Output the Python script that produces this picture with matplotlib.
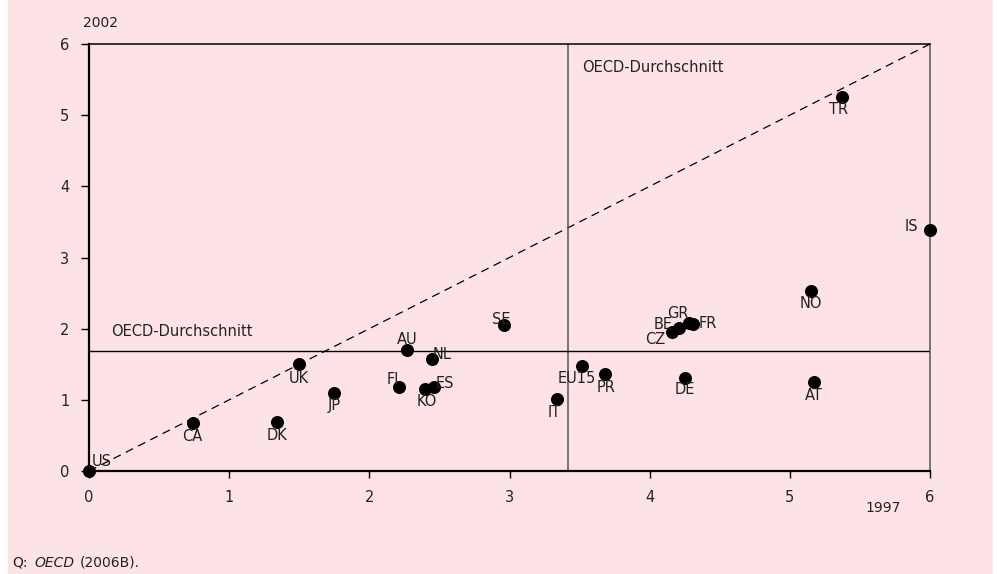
import matplotlib.pyplot as plt
from matplotlib.patches import Rectangle

# ====== DATA ====== #
countries = ['US', 'CA', 'DK', 'UK', 'JP', 'AU', 'NL', 'FI', 'KO', 'ES', 'SE', 'IT',
             'EU15', 'PR', 'BE', 'CZ', 'GR', 'FR', 'DE', 'AT', 'NO', 'IS', 'TR']
x_1997 = [0.00, 0.74, 1.34, 1.50, 1.75, 2.27, 2.45, 2.21, 2.40, 2.46, 2.96, 3.34,
          3.52, 3.68, 4.21, 4.16, 4.28, 4.31, 4.25, 5.17, 5.15, 6.00, 5.37]
y_2002 = [0.00, 0.68, 0.69, 1.50, 1.09, 1.70, 1.57, 1.18, 1.15, 1.18, 2.05, 1.01,
          1.48, 1.37, 2.01, 1.96, 2.08, 2.07, 1.31, 1.25, 2.53, 3.38, 5.25]
oecd_avg_1997 = 3.42
oecd_avg_2002 = 1.68

# label placement: offset in pixels and horizontal alignment
label_pos = {
    'US': (3, 9, 'left'), 'CA': (0, -14, 'center'), 'DK': (0, -14, 'center'),
    'UK': (0, -14, 'center'), 'JP': (0, -12, 'center'), 'AU': (0, 11, 'center'),
    'NL': (0, 5, 'left'), 'FI': (-6, 8, 'center'), 'KO': (1, -12, 'center'),
    'ES': (2, 4, 'left'), 'SE': (-3, 6, 'center'), 'IT': (-3, -13, 'center'),
    'EU15': (-6, -13, 'center'), 'PR': (1, -14, 'center'), 'BE': (-6, 3, 'right'),
    'CZ': (-7, -8, 'right'), 'GR': (-11, 9, 'center'), 'FR': (6, 0, 'left'),
    'DE': (0, -12, 'center'), 'AT': (0, -13, 'center'), 'NO': (0, -13, 'center'),
    'IS': (-12, 4, 'right'), 'TR': (-3, -12, 'center'),
}

pink = '#fee3e6'
txt = '#222222'
plt.rcParams['font.family'] = ['DejaVu Sans']

fig = plt.figure(figsize=(9.97, 5.74), dpi=100, facecolor='white')
fig.patches.append(Rectangle((8 / 997, 0), 985 / 997, 1, transform=fig.transFigure,
                             facecolor=pink, edgecolor='none', zorder=-10))
ax = fig.add_axes([89 / 997, 1 - 471 / 574, 841 / 997, 427 / 574])
ax.set_facecolor(pink)

# diagonal and OECD average lines
ax.plot([0, 6], [0, 6], color='black', lw=0.9, ls=(0, (6.5, 4.5)), zorder=2)
ax.axvline(oecd_avg_1997, color='#555555', lw=1.1, zorder=2)
ax.axhline(oecd_avg_2002, color='black', lw=1.0, zorder=2)

ax.scatter(x_1997, y_2002, s=70, color='black', zorder=4, clip_on=False)

for c, xv, yv in zip(countries, x_1997, y_2002):
    dx, dy, ha = label_pos[c]
    ax.annotate(c, (xv, yv), xytext=(dx * 0.72, dy * 0.72), textcoords='offset points',
                ha=ha, va='center', fontsize=10.5, color=txt, zorder=5)

ax.text(3.52, 5.67, 'OECD-Durchschnitt', fontsize=10.5, color=txt, va='center')
ax.text(0.157, 1.96, 'OECD-Durchschnitt', fontsize=10.5, color=txt, va='center')

ax.set_xlim(0, 6)
ax.set_ylim(0, 6)
ax.set_xticks(range(7))
ax.set_yticks(range(7))
ax.tick_params(axis='x', direction='out', length=5, width=1, pad=9, labelsize=10.5, labelcolor=txt)
ax.tick_params(axis='y', direction='out', length=6, width=1, pad=8, labelsize=10.5, labelcolor=txt)

ax.spines['left'].set_linewidth(1.6)
ax.spines['bottom'].set_linewidth(1.6)
ax.spines['top'].set_linewidth(1.1)
ax.spines['right'].set_linewidth(1.1)
ax.spines['right'].set_color('#555555')

fig.text(83 / 997, 1 - 23 / 574, '2002', fontsize=10, color=txt, va='center', ha='left')
fig.text(883 / 997, 1 - 508 / 574, '1997', fontsize=10, color=txt, va='center', ha='center')

# source line, with the author in italics
src = fig.text(12 / 997, 1 - 570 / 574, 'Q:', fontsize=10, color=txt, va='bottom', ha='left')
src2 = plt.annotate('OECD', xy=(1, 0), xycoords=src, xytext=(5, 0), textcoords='offset points',
                    fontsize=10, color=txt, va='bottom', ha='left', style='italic')
plt.annotate('(2006B).', xy=(1, 0), xycoords=src2, xytext=(4, 0), textcoords='offset points',
             fontsize=10, color=txt, va='bottom', ha='left')

plt.savefig('out.png', dpi=100, facecolor=fig.get_facecolor())
